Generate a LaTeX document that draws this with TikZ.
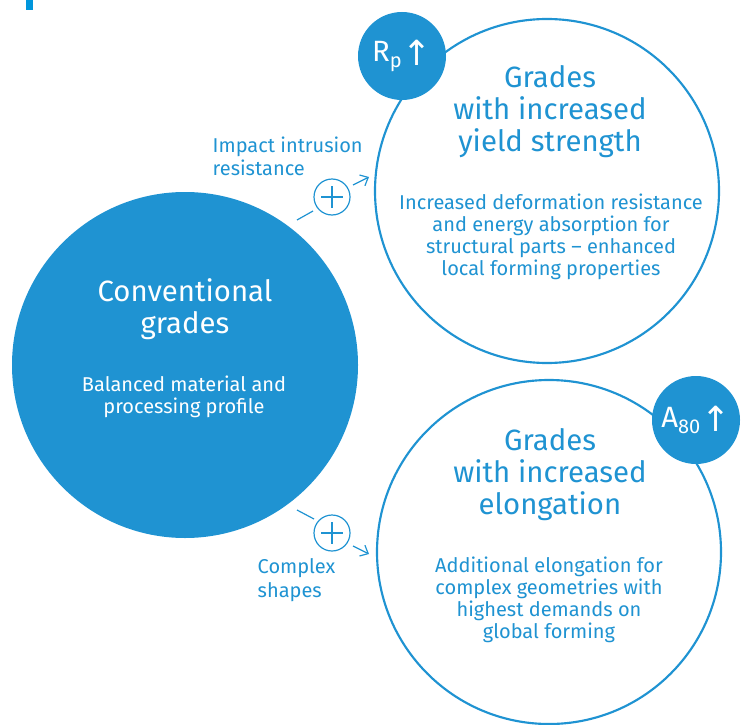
\documentclass[tikz,border=0pt]{standalone}
\usepackage{fontspec}
\setmainfont{Fira Sans}
\newfontfamily\arrowfont{DejaVu Sans}
\usetikzlibrary{arrows.meta,calc}
\definecolor{sblue}{HTML}{1F93D2}
\definecolor{barblue}{HTML}{0096DC}
\tikzset{
  title/.style={text=sblue,align=center,font=\fontsize{22}{24}\selectfont},
  desc/.style={text=sblue,align=center,font=\fontsize{15}{16.5}\selectfont},
  side/.style={text=sblue,align=left,font=\fontsize{15}{17.5}\selectfont},
  ring/.style={circle,draw=sblue,line width=1.6pt,fill=white},
  badge/.style={circle,fill=sblue,text=white,inner sep=0pt,font=\fontsize{22}{24}\selectfont},
  plus/.style={circle,draw=sblue,line width=0.9pt,minimum size=27pt,inner sep=0pt},
  conn/.style={draw=sblue,line width=0.9pt},
}
\begin{document}
\begin{tikzpicture}[x=0.75pt,y=-0.75pt]
\useasboundingbox (0,0) rectangle (741,724);
\fill[barblue] (26,0) rectangle (33,10);
% circles
\node[circle,fill=sblue,minimum size=259.5pt,inner sep=0pt] (conv) at (185,365) {};
\node[ring,minimum size=258pt,inner sep=0pt] (yield) at (547,191) {};
\node[ring,minimum size=258pt,inner sep=0pt] (elong) at (549,552) {};
% badges
\node[badge,minimum size=66pt] (rp) at (402,56) {R\raisebox{-0.4ex}{\fontsize{15}{15}\selectfont p}\hspace{1pt}\raisebox{-0.3ex}{\arrowfont\fontsize{26}{26}\selectfont ↑}};
\node[badge,minimum size=66pt] (a80) at (696,420) {A\raisebox{-0.4ex}{\fontsize{15}{15}\selectfont 80}\hspace{1pt}\raisebox{-0.3ex}{\arrowfont\fontsize{26}{26}\selectfont ↑}};
% texts
\node[title] (t1) at (550,112) {Grades\\with increased\\yield strength};
\node[desc] (d1) at (551,237) {Increased deformation resistance\\and energy absorption for\\structural parts – enhanced\\local forming properties};
\node[title,text=white] (t0) at (185,309) {Conventional\\grades};
\node[desc,text=white] (d0) at (184,397) {Balanced material and\\processing profile};
\node[title] (t2) at (550,475) {Grades\\with increased\\elongation};
\node[desc] (d2) at (549,600) {Additional elongation for\\complex geometries with\\highest demands on\\global forming};
\node[side,anchor=west] (s1) at (208,156) {Impact intrusion\\resistance};
\node[side,anchor=west] (s2) at (253,580) {Complex\\shapes};
% plus signs
\node[plus] (p1) at (332,197) {};
\draw[conn] ($(p1)+(-11,0)$) -- ($(p1)+(11,0)$) ($(p1)+(0,-11)$) -- ($(p1)+(0,11)$);
\node[plus] (p2) at (332,533) {};
\draw[conn] ($(p2)+(-11,0)$) -- ($(p2)+(11,0)$) ($(p2)+(0,-11)$) -- ($(p2)+(0,11)$);
\coordinate (a1s) at (297,220);
\coordinate (a1e) at (313,211);
\coordinate (b1s) at (353,185);
\coordinate (b1e) at (369,177);
\draw[conn] (a1s) -- (a1e);
\draw[conn,-{Straight Barb[length=5pt,width=9pt]}] (b1s) -- (b1e);
\coordinate (a2s) at (297,510);
\coordinate (a2e) at (314,519);
\coordinate (b2s) at (353,546);
\coordinate (b2e) at (369,554);
\draw[conn] (a2s) -- (a2e);
\draw[conn,-{Straight Barb[length=5pt,width=9pt]}] (b2s) -- (b2e);
\end{tikzpicture}
\end{document}
